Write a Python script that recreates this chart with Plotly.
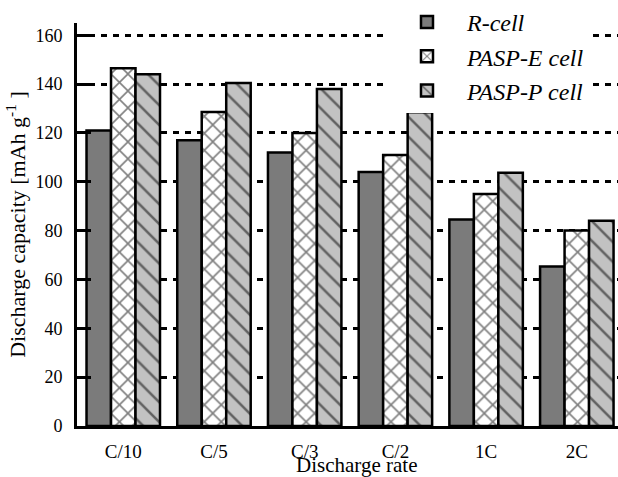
import plotly.graph_objects as go

categories = ["C/10", "C/5", "C/3", "C/2", "1C", "2C"]
r_cell = [121, 117, 112, 104, 84.5, 65.3]
pasp_e = [146.5, 128.6, 120, 111, 95, 80]
pasp_p = [144, 140.4, 138, 128.5, 103.7, 84]
y_ticks = [0, 20, 40, 60, 80, 100, 120, 140, 160]

FONT = "Liberation Serif, Times New Roman, serif"

fig = go.Figure()
fig.add_trace(go.Bar(
    x=categories, y=r_cell, name="R-cell", legendgroup="a",
    marker=dict(color="#7b7b7b", line=dict(color="black", width=2.5)),
))
fig.add_trace(go.Bar(
    x=categories, y=pasp_e, name="PASP-E cell", legendgroup="b",
    marker=dict(color="white", line=dict(color="black", width=2.5),
                pattern=dict(shape="x", fgcolor="black", bgcolor="white",
                             size=12, solidity=0.25, fillmode="overlay")),
))
fig.add_trace(go.Bar(
    x=categories, y=pasp_p, name="PASP-P cell", legendgroup="c",
    marker=dict(color="#c2c2c2", line=dict(color="black", width=2.5),
                pattern=dict(shape="\\", fgcolor="black", bgcolor="#c2c2c2",
                             size=14, solidity=0.18, fillmode="overlay")),
))

fig.update_layout(
    width=618, height=477,
    margin=dict(l=77, r=0, t=22, b=51),
    paper_bgcolor="white", plot_bgcolor="white",
    barmode="group", bargap=0.19, bargroupgap=0,
    font=dict(family=FONT, color="black", size=19),
    showlegend=True,
    legend=dict(x=0.573, y=1.058, xanchor="left", yanchor="top",
                bgcolor="white", font=dict(family=FONT, size=24, style="italic"),
                tracegroupgap=0, itemwidth=70),
    xaxis=dict(
        range=[-0.51, 5.454], showline=True, linecolor="black", linewidth=3,
        ticks="", showgrid=False, ticklabelstandoff=6, automargin=False,
        tickfont=dict(size=19),
    ),
    yaxis=dict(
        range=[0, 165], showline=True, linecolor="black", linewidth=3,
        tickvals=y_ticks, ticks="inside", ticklen=14, tickwidth=3, tickcolor="black",
        showgrid=True, gridcolor="black", gridwidth=3, griddash="6px,6px",
        zeroline=False, tickfont=dict(size=18), ticklabelstandoff=8, automargin=False,
        title=dict(text="Discharge capacity [mAh g<sup>-1</sup> ]",
                   font=dict(size=22), standoff=4),
    ),
    annotations=[dict(
        text="Discharge rate", xref="paper", yref="paper", x=0.517, y=-0.097,
        xanchor="center", yanchor="middle", showarrow=False,
        font=dict(family=FONT, size=21),
    )],
)

fig.write_html("out.html", config={"displayModeBar": False},
               post_script="document.body.style.margin='0';")
